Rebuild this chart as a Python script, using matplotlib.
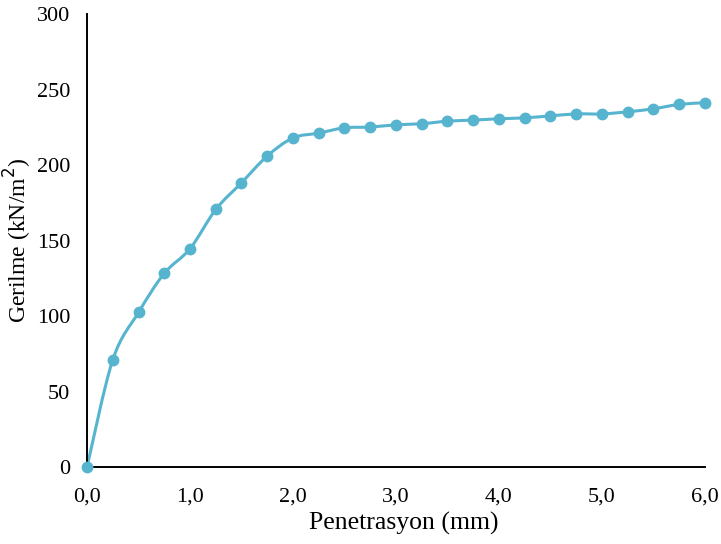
import numpy as np
import matplotlib.pyplot as plt
from matplotlib.path import Path
from matplotlib.patches import PathPatch

plt.rcParams['font.family'] = ['Liberation Serif', 'DejaVu Serif']

penetrasyon = [0.0, 0.25, 0.5, 0.75, 1.0, 1.25, 1.5, 1.75, 2.0, 2.25, 2.5, 2.75, 3.0,
               3.25, 3.5, 3.75, 4.0, 4.25, 4.5, 4.75, 5.0, 5.25, 5.5, 5.75, 6.0]
gerilme = [0, 71, 102.4, 128.3, 144.6, 170.6, 188.3, 206, 218, 221.2, 224.7, 225.2, 226.7,
           227.4, 229.1, 229.8, 230.7, 231.3, 232.6, 233.9, 233.9, 235.3, 237.3, 240.2, 241.3]
x_ticks = [0, 1, 2, 3, 4, 5, 6]
x_labels = ['0,0', '1,0', '2,0', '3,0', '4,0', '5,0', '6,0']
y_ticks = [0, 50, 100, 150, 200, 250, 300]

renk = '#56b4cf'


def smooth_path(x, y, t=1/6):
    # Catmull-Rom style Bezier segments through the points
    x = np.asarray(x, float)
    y = np.asarray(y, float)
    verts = [(x[0], y[0])]
    codes = [Path.MOVETO]
    n = len(x)
    for i in range(n - 1):
        i0 = max(i - 1, 0)
        i3 = min(i + 2, n - 1)
        c1 = (x[i] + (x[i + 1] - x[i0]) * t, y[i] + (y[i + 1] - y[i0]) * t)
        c2 = (x[i + 1] - (x[i3] - x[i]) * t, y[i + 1] - (y[i3] - y[i]) * t)
        verts += [c1, c2, (x[i + 1], y[i + 1])]
        codes += [Path.CURVE4] * 3
    return Path(verts, codes)


fig = plt.figure(figsize=(7.21, 5.44), dpi=100)
ax = fig.add_axes([0.1207, 0.1415, 0.857, 0.8325])

ax.add_patch(PathPatch(smooth_path(penetrasyon, gerilme), fill=False,
                       edgecolor=renk, lw=2.2, zorder=2))
ax.plot(penetrasyon, gerilme, 'o', color=renk, markersize=7.5, zorder=3, clip_on=False)

ax.set_xlim(0, 6)
ax.set_ylim(0, 300)
ax.set_xticks(x_ticks)
ax.set_xticklabels(x_labels)
ax.set_yticks(y_ticks)
ax.tick_params(length=0, labelsize=16)
ax.tick_params(axis='x', pad=14.5)
ax.tick_params(axis='y', pad=12)
for s in ['top', 'right']:
    ax.spines[s].set_visible(False)
for s in ['left', 'bottom']:
    ax.spines[s].set_linewidth(1.4)
    ax.spines[s].set_color('black')

ax.set_xlabel('Penetrasyon (mm)', fontsize=18.5)
ax.set_ylabel('Gerilme (kN/m$^2$)', fontsize=17)
ax.xaxis.set_label_coords(0.513, -0.099)
ax.yaxis.set_label_coords(-0.086, 0.5)

plt.savefig('out.png', dpi=100)
